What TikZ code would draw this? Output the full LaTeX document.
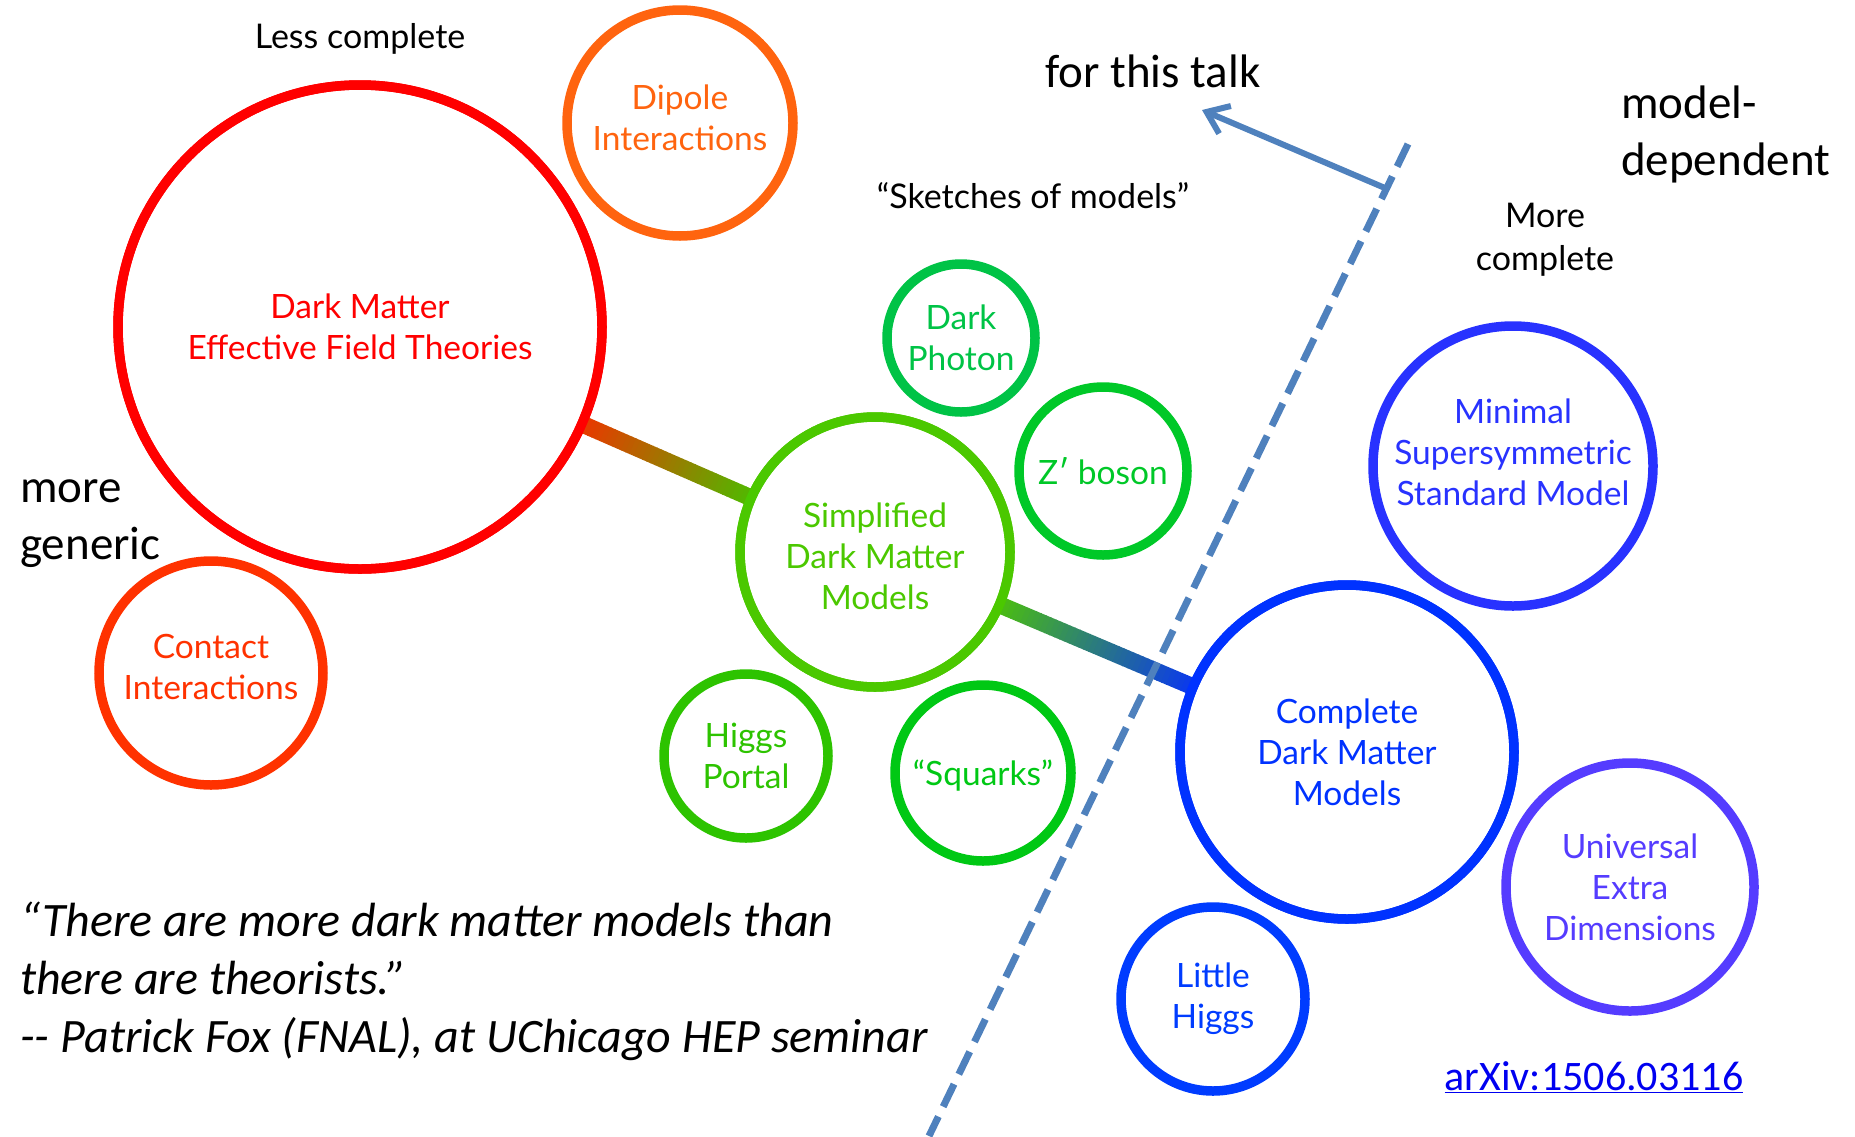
\documentclass[tikz,border=0pt]{standalone}
\usepackage{fontspec}
\setmainfont{Carlito}
\newfontfamily\gillfont{Lato}
\usetikzlibrary{calc,arrows.meta}
\definecolor{cEFT}{RGB}{255,0,0}
\definecolor{cDip}{RGB}{255,100,15}
\definecolor{cCon}{RGB}{255,50,0}
\definecolor{cSim}{RGB}{75,200,0}
\definecolor{cPho}{RGB}{0,195,70}
\definecolor{cZp}{RGB}{0,200,40}
\definecolor{cHig}{RGB}{45,195,0}
\definecolor{cSqu}{RGB}{0,200,20}
\definecolor{cMSSM}{RGB}{40,50,255}
\definecolor{cCom}{RGB}{0,50,255}
\definecolor{cUED}{RGB}{85,60,255}
\definecolor{cLit}{RGB}{0,60,255}
\definecolor{cDash}{RGB}{79,129,189}
\definecolor{gAs}{RGB}{235,55,0}
\definecolor{gAe}{RGB}{80,185,0}
\definecolor{gBs}{RGB}{75,190,15}
\definecolor{gBe}{RGB}{10,55,240}
\definecolor{cLink}{RGB}{0,0,240}
\begin{document}
\begin{tikzpicture}[x=1pt,y=-1pt,
  ring/.style={circle, draw, line width=9.5pt, inner sep=0pt},
  ctext/.style={font=\gillfont\fontsize{33.5}{41}\selectfont, align=center, inner sep=0pt},
  gtext/.style={font=\gillfont\fontsize{34}{43}\selectfont, align=center, text=black, inner sep=0pt},
  btext/.style={font=\fontsize{47}{57}\selectfont, align=left, text=black, inner sep=0pt},
  dashline/.style={draw=cDash, line width=7pt, dash pattern=on 25pt off 11pt},
  talkarrow/.style={draw=cDash, line width=6pt, -{Straight Barb[length=20pt,width=30pt]}}
]
\useasboundingbox (0,0) rectangle (1855,1136);

% rings (positions only)
\node[ring, draw=cEFT, minimum size=484pt] (eft) at (360,327) {};
\node[ring, draw=cDip, minimum size=226pt] (dip) at (680,123) {};
\node[ring, draw=cCon, minimum size=224pt] (con) at (211,673) {};
\node[ring, draw=cSim, minimum size=270pt] (sim) at (875,552) {};
\node[ring, draw=cPho, minimum size=148pt] (pho) at (961,338) {};
\node[ring, draw=cZp, minimum size=168pt] (zp) at (1103,471) {};
\node[ring, draw=cHig, minimum size=164pt] (hig) at (746,756) {};
\node[ring, draw=cSqu, minimum size=176pt] (squ) at (983,773) {};
\node[ring, draw=cMSSM, minimum size=280pt] (mssm) at (1513,466) {};
\node[ring, draw=cCom, minimum size=334pt] (com) at (1347,752) {};
\node[ring, draw=cUED, minimum size=248pt] (ued) at (1630,887) {};
\node[ring, draw=cLit, minimum size=184pt] (lit) at (1213,999) {};

% gradient connectors
\path (eft) -- (sim) coordinate[pos=0] (c1s) coordinate[pos=1] (c1e);
\path (sim) -- (com) coordinate[pos=0] (c2s) coordinate[pos=1] (c2e);
\foreach \i in {1,...,40}{
  \pgfmathsetmacro{\pa}{-0.025+1.05*(\i-1)/40}
  \pgfmathsetmacro{\pb}{-0.025+1.05*\i/40+0.004}
  \pgfmathsetmacro{\pc}{100*(\i-0.5)/40}
  \draw[line width=17pt, color=gAe!\pc!gAs] ($(c1s)!\pa!(c1e)$) -- ($(c1s)!\pb!(c1e)$);
  \draw[line width=17pt, color=gBe!\pc!gBs] ($(c2s)!\pa!(c2e)$) -- ($(c2s)!\pb!(c2e)$);
}

% redraw rings on top of connector ends
\draw[draw=cEFT, line width=9.5pt] (eft.center) circle (242pt);
\draw[draw=cSim, line width=9.5pt] (sim.center) circle (135pt);
\draw[draw=cCom, line width=9.5pt] (com.center) circle (167pt);

% ring texts
\node[ctext, text=cEFT] (teft) at (eft) {Dark Matter\\Effective Field Theories};
\node[ctext, text=cDip] (tdip) at ($(dip)+(0,-5)$) {Dipole\\Interactions};
\node[ctext, text=cCon] (tcon) at ($(con)+(0,-6)$) {Contact\\Interactions};
\node[ctext, text=cSim] (tsim) at ($(sim)+(0,4)$) {Simplified\\Dark Matter\\Models};
\node[ctext, text=cPho] (tpho) at (pho) {Dark\\Photon};
\node[ctext, text=cZp] (tzp) at (zp) {Z′ boson};
\node[ctext, text=cHig] (thig) at (hig) {Higgs\\Portal};
\node[ctext, text=cSqu] (tsqu) at ($(squ)+(0,3)$) {“Squarks”};
\node[ctext, text=cMSSM] (tmssm) at ($(mssm)+(0,-14)$) {Minimal\\Supersymmetric\\Standard Model};
\node[ctext, text=cCom] (tcom) at (com) {Complete\\Dark Matter\\Models};
\node[ctext, text=cUED] (tued) at (ued) {Universal\\Extra\\Dimensions};
\node[ctext, text=cLit] (tlit) at (lit) {Little\\Higgs};

% dashed divider and arrow
\coordinate (dtop) at (1408,144);
\coordinate (dbot) at (929,1136);
\draw[dashline] (dtop) -- (dbot);
\coordinate (atail) at ($(dtop)!0.045!(dbot)$);
\coordinate (atip) at (1202,110);
\draw[talkarrow] (atail) -- (atip);

% labels
\node[gtext] (less) at (360,39) {Less complete};
\node[gtext] (sketch) at (1033,196) {“Sketches of models”};
\node[gtext] (more) at (1545,240) {More\\complete};
\node[btext, anchor=center] (talk) at (1153,71) {for this talk};
\node[btext, anchor=west] (moddep) at (1621,134) {model-\\dependent};
\node[btext, anchor=west] (generic) at (20,524) {more\\generic};
\node[font=\itshape\fontsize{48}{58}\selectfont, align=left, anchor=west, inner sep=0pt] (quote) at (20,981)
  {“There are more dark matter models than\\there are theorists.”\\{-}{-} Patrick Fox (FNAL), at UChicago HEP seminar};
\node[font=\fontsize{42}{50}\selectfont, text=cLink, inner sep=0pt] (arxiv) at (1594,1077) {\underline{arXiv:1506.03116}};
\end{tikzpicture}
\end{document}
